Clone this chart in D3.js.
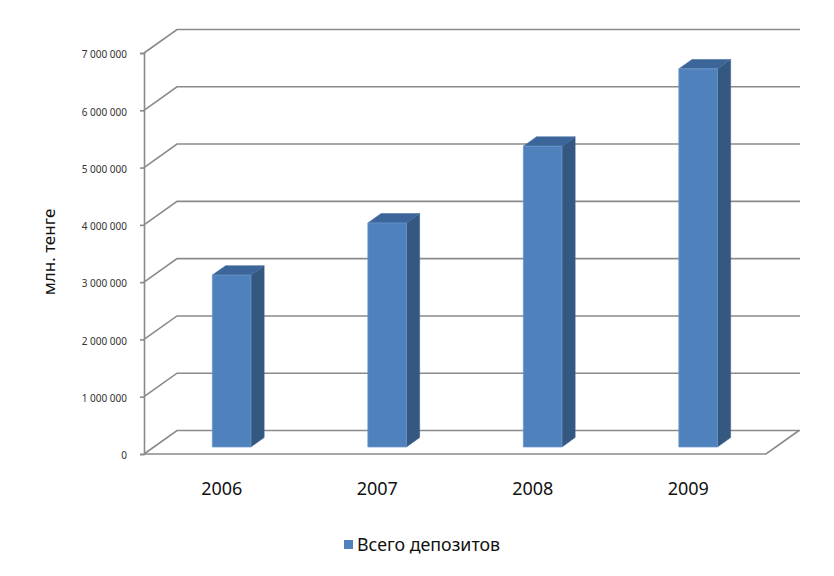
<!DOCTYPE html>
<html>
<head>
<meta charset="utf-8">
<script src="https://cdn.jsdelivr.net/npm/d3@7"></script>
<style>
  html, body { margin: 0; padding: 0; background: #fff; }
  svg { display: block; }
  text { font-family: "Noto Sans", "Open Sans", sans-serif; }
</style>
</head>
<body>
<svg id="chart" width="834" height="576"></svg>
<script>
// ---- data ----
const categories = ["2006", "2007", "2008", "2009"];
const values = [3000000, 3910000, 5250000, 6600000];
const seriesName = "Всего депозитов";
const yTicks = [0, 1000000, 2000000, 3000000, 4000000, 5000000, 6000000, 7000000];
const yTitle = "млн. тенге";

(function () {
// ---- layout ----
const svg = d3.select("#chart");
const plotL = 144, plotR = 766, plotB = 454, plotT = 53;
const depthX = 33, depthY = 23.5;     // 3D depth offset
const barD0 = 0.3, barD1 = 0.7;       // bar front/back depth fraction
const gridColor = "#8a8a8a";

const x = d3.scaleBand().domain(categories).range([plotL, plotR]).padding(0);
const y = d3.scaleLinear().domain([0, 7000000]).range([plotB, plotT]);
const barW = x.bandwidth() * 0.248;

const P = (px, py, d) => [px + depthX * d, py - depthY * d];

// gridlines (left wall + back wall)
const grid = svg.append("g");
yTicks.forEach(t => {
  const y0 = y(t);
  const a = P(plotL, y0, 0), b = P(plotL, y0, 1);
  grid.append("path")
    .attr("d", `M${a[0]},${a[1]}L${b[0]},${b[1]}L${plotR + depthX + 1},${b[1]}`)
    .attr("fill", "none").attr("stroke", gridColor).attr("stroke-width", 1.6);
});
// floor front edge and right edge
{
  const a = P(plotR, plotB, 0), b = P(plotR, plotB, 1);
  grid.append("path")
    .attr("d", `M${plotL},${plotB}L${a[0]},${a[1]}L${b[0]},${b[1]}`)
    .attr("fill", "none").attr("stroke", gridColor).attr("stroke-width", 1.6);
}

// y axis
const fmt = d3.formatLocale({ decimal: ",", thousands: " ", grouping: [3], currency: ["", ""] }).format(",");
const yAxis = d3.axisLeft(y).tickValues(yTicks).tickFormat(fmt).tickSize(4).tickPadding(13);
const ax = svg.append("g").attr("transform", `translate(${plotL},0)`).call(yAxis);
ax.select(".domain").attr("stroke", gridColor).attr("stroke-width", 1.6);
ax.selectAll(".tick line").attr("stroke", gridColor).attr("stroke-width", 1.6);
ax.selectAll(".tick text").attr("font-size", 10).attr("fill", "#333").attr("dy", "0.48em")
  .attr("font-family", "'Noto Sans', sans-serif");

// bars
const bars = svg.append("g");
categories.forEach((c, i) => {
  const v = values[i];
  const cx = x(c) + x.bandwidth() / 2;
  const xl = cx - barW / 2, xr = cx + barW / 2;
  const yb = plotB, yt = y(v);
  const fbl = P(xl, yb, barD0), fbr = P(xr, yb, barD0), ftr = P(xr, yt, barD0), ftl = P(xl, yt, barD0);
  const bbr = P(xr, yb, barD1), btr = P(xr, yt, barD1), btl = P(xl, yt, barD1);
  // side
  bars.append("path").attr("d", `M${fbr}L${bbr}L${btr}L${ftr}Z`)
    .attr("fill", "#34587f").attr("stroke", "#3a6190").attr("stroke-width", 0.6);
  // top
  bars.append("path").attr("d", `M${ftl}L${ftr}L${btr}L${btl}Z`)
    .attr("fill", "#3c6699").attr("stroke", "#4571a6").attr("stroke-width", 0.6);
  // front
  bars.append("path").attr("d", `M${fbl}L${fbr}L${ftr}L${ftl}Z`)
    .attr("fill", "#4f81bd").attr("stroke", "#6b96cc").attr("stroke-width", 0.8);
});

// category labels
svg.append("g").selectAll("text").data(categories).join("text")
  .attr("x", d => x(d) + x.bandwidth() / 2)
  .attr("y", 495)
  .attr("text-anchor", "middle")
  .attr("font-size", 18)
  .attr("fill", "#111")
  .text(d => d);

// y title
svg.append("text")
  .attr("transform", "translate(55,252) rotate(-90)")
  .attr("text-anchor", "middle")
  .attr("font-size", 17)
  .attr("fill", "#111")
  .text(yTitle);

// legend
const lg = svg.append("g");
lg.append("rect").attr("x", 344).attr("y", 540).attr("width", 9).attr("height", 9).attr("fill", "#4f81bd");
lg.append("text").attr("x", 357).attr("y", 551).attr("font-size", 17.8).attr("fill", "#111").text(seriesName);
})();
</script>
</body>
</html>
